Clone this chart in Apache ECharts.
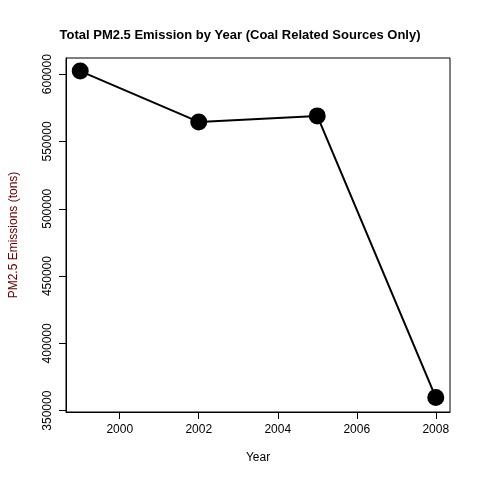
<!DOCTYPE html>
<html><head><meta charset="utf-8">
<script src="https://cdn.jsdelivr.net/npm/echarts@6/dist/echarts.min.js"></script>
<style>html,body{margin:0;background:#fff}#c{width:480px;height:480px}</style>
</head><body><div id="c"></div>
<script>
const years = [1999, 2002, 2005, 2008];
const emissions = [602300, 564500, 569000, 359800];
const xTicks = [2000, 2002, 2004, 2006, 2008];
const yTicks = [350000, 400000, 450000, 500000, 550000, 600000];
const chart = echarts.init(document.getElementById('c'));
const font = 'Liberation Sans, Arial, sans-serif';
chart.setOption({
  animation: false,
  title: {text: 'Total PM2.5 Emission by Year (Coal Related Sources Only)', left: 'center', top: 24,
    textStyle: {fontFamily: font, fontSize: 13, fontWeight: 'bold', color: '#000'}},
  grid: {left: 58, right: 30, top: 58, bottom: 68, show: true, borderColor: '#000', borderWidth: 1},
  xAxis: {type: 'value', min: 1998.64, max: 2008.36, name: 'Year', nameLocation: 'middle', nameGap: 40,
    nameTextStyle: {fontFamily: font, fontSize: 12, color: '#000'},
    axisLine: {show: true, lineStyle: {color: '#000'}}, splitLine: {show: false},
    axisTick: {show: true, inside: false, length: 7, lineStyle: {color: '#000'}, customValues: xTicks},
    axisLabel: {fontFamily: font, fontSize: 12, color: '#000', margin: 12, customValues: xTicks,
      formatter: v => String(v)}},
  yAxis: {type: 'value', min: 349000, max: 612000, name: 'PM2.5 Emissions (tons)', nameLocation: 'middle', nameGap: 46,
    nameTextStyle: {fontFamily: font, fontSize: 12, color: '#600000'},
    axisLine: {show: true, lineStyle: {color: '#000'}}, splitLine: {show: false},
    axisTick: {show: true, inside: false, length: 7, lineStyle: {color: '#000'}, customValues: yTicks},
    axisLabel: {fontFamily: font, fontSize: 12, color: '#000', rotate: 90, margin: 12, customValues: yTicks,
      formatter: v => String(v)}},
  series: [{type: 'line', data: years.map((y, i) => [y, emissions[i]]),
    symbol: 'circle', symbolSize: 17, itemStyle: {color: '#000'},
    lineStyle: {color: '#000', width: 2}}]
});
</script></body></html>
